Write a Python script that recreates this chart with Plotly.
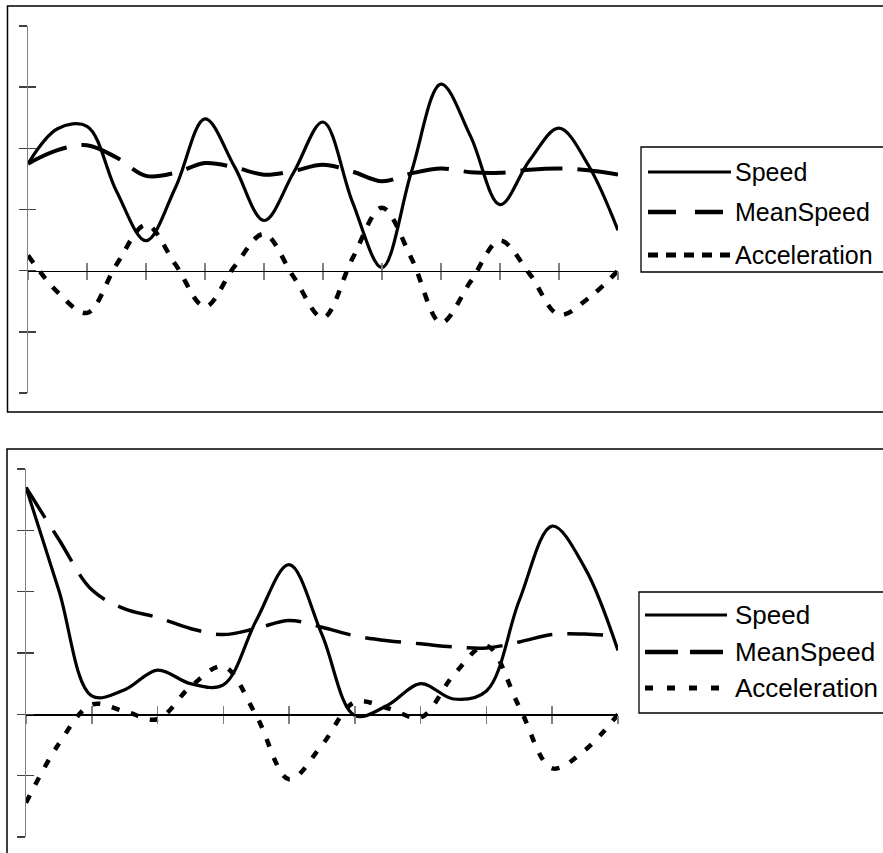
import plotly.graph_objects as go

# ---------------- data ----------------
top_x = [0, 0.5, 1, 1.5, 2, 2.5, 3, 3.5, 4, 4.5, 5, 5.5, 6, 6.5, 7, 7.5, 8, 8.5, 9, 9.5, 10]
top_speed = [1.75, 2.32, 2.36, 1.3, 0.49, 1.36, 2.48, 1.7, 0.82, 1.6, 2.43, 1.12, 0.05, 1.62,
             3.05, 2.2, 1.08, 1.8, 2.33, 1.72, 0.66]
top_mean = [1.75, 1.97, 2.05, 1.85, 1.55, 1.6, 1.76, 1.69, 1.57, 1.63, 1.73, 1.62, 1.46, 1.59,
            1.67, 1.61, 1.6, 1.65, 1.67, 1.64, 1.57]
top_acc = [0.25, -0.35, -0.69, 0.1, 0.75, 0.1, -0.59, 0.07, 0.6, -0.1, -0.77, 0.2, 1.03, 0.2,
           -0.85, -0.18, 0.49, -0.05, -0.72, -0.45, 0.0]

bot_x = [0, 0.5, 1, 1.5, 2, 2.5, 3, 3.5, 4, 4.5, 5, 5.5, 6, 6.5, 7, 7.5, 8, 8.5, 9]
bot_speed = [3.7, 2.02, 0.3, 0.4, 0.72, 0.5, 0.48, 1.53, 2.44, 1.3, -0.02, 0.15, 0.5, 0.25,
             0.38, 1.86, 3.07, 2.38, 1.04]
bot_mean = [3.7, 2.85, 2.03, 1.72, 1.58, 1.4, 1.3, 1.4, 1.53, 1.42, 1.28, 1.2, 1.15, 1.1,
            1.08, 1.18, 1.3, 1.31, 1.27]
bot_acc = [-1.44, -0.48, 0.16, 0.05, -0.08, 0.45, 0.78, -0.02, -1.06, -0.5, 0.2, 0.1, -0.05,
           0.64, 1.12, 0.12, -0.88, -0.58, 0.0]

series_names = ["Speed", "MeanSpeed", "Acceleration"]
y_range = [-2, 4]

# ---------------- layout helpers ----------------
W, H = 883, 853
def px(x):
    return x / W
def py(y):
    return 1 - y / H

top_dom_x = [px(28), px(618)]
top_dom_y = [py(393), py(26)]
bot_dom_x = [px(26), px(618)]
bot_dom_y = [py(837), py(469)]

def zero_pos(dom):
    return dom[0] + (0 - y_range[0]) / (y_range[1] - y_range[0]) * (dom[1] - dom[0])

fig = go.Figure()

styles = [
    dict(color="black", width=3.2, dash="solid"),
    dict(color="black", width=4, dash="42px,15px"),
    dict(color="black", width=4.5, dash="9px,11px"),
]

for ys, st, nm in zip([top_speed, top_mean, top_acc], styles, series_names):
    fig.add_trace(go.Scatter(x=top_x, y=ys, mode="lines", name=nm, showlegend=False,
                             line=dict(shape="spline", smoothing=1.0, **st),
                             xaxis="x", yaxis="y"))
bot_styles = [
    dict(color="black", width=3.2, dash="solid"),
    dict(color="black", width=3.5, dash="36px,15px"),
    dict(color="black", width=4.5, dash="8px,12px"),
]
for ys, st, nm in zip([bot_speed, bot_mean, bot_acc], bot_styles, series_names):
    fig.add_trace(go.Scatter(x=bot_x, y=ys, mode="lines", name=nm, showlegend=False,
                             line=dict(shape="spline", smoothing=1.0, **st),
                             xaxis="x2", yaxis="y2"))
# helper traces for overlay axes (crossing ticks)
fig.add_trace(go.Scatter(x=[None], y=[None], xaxis="x3", yaxis="y3", showlegend=False))
fig.add_trace(go.Scatter(x=[None], y=[None], xaxis="x4", yaxis="y4", showlegend=False))

gray = "#808080"
common_x = dict(showgrid=False, zeroline=False, showticklabels=False, dtick=1, tick0=0,
                ticklen=8, tickwidth=1.5, tickcolor=gray, fixedrange=True)
common_y = dict(showgrid=False, zeroline=False, showticklabels=False, dtick=1, tick0=0,
                range=y_range, ticklen=8, tickwidth=1.5, tickcolor="#404040", fixedrange=True)

fig.update_layout(
    width=W, height=H, margin=dict(l=0, r=0, t=0, b=0),
    paper_bgcolor="white", plot_bgcolor="rgba(0,0,0,0)", showlegend=False,
    hovermode=False,
    xaxis=dict(domain=top_dom_x, range=[0, 10], anchor="free", position=zero_pos(top_dom_y),
               showline=True, linecolor="black", linewidth=1.5, ticks="outside", **common_x),
    xaxis3=dict(domain=top_dom_x, range=[0, 10], anchor="free", position=zero_pos(top_dom_y),
                overlaying="x", showline=False, ticks="inside", **common_x),
    yaxis=dict(domain=top_dom_y, anchor="x", showline=True, linecolor=gray, linewidth=1.5,
               ticks="outside", **common_y),
    yaxis3=dict(domain=top_dom_y, anchor="x", overlaying="y", showline=False,
                ticks="inside", **common_y),
    xaxis2=dict(domain=bot_dom_x, range=[0, 9], anchor="free", position=zero_pos(bot_dom_y),
                showline=True, linecolor="black", linewidth=1.5, ticks="outside", **common_x),
    xaxis4=dict(domain=bot_dom_x, range=[0, 9], anchor="free", position=zero_pos(bot_dom_y),
                overlaying="x2", showline=False, ticks="inside", **common_x),
    yaxis2=dict(domain=bot_dom_y, anchor="x2", showline=True, linecolor=gray, linewidth=1.5,
                ticks="outside", **common_y),
    yaxis4=dict(domain=bot_dom_y, anchor="x2", overlaying="y2", showline=False,
                ticks="inside", **common_y),
)

shapes = []
annotations = []
# panel borders
shapes.append(dict(type="rect", xref="paper", yref="paper", x0=px(7.5), x1=px(895),
                   y0=py(412), y1=py(6), line=dict(color="black", width=1.5)))
shapes.append(dict(type="rect", xref="paper", yref="paper", x0=px(7), x1=px(895),
                   y0=py(870), y1=py(449), line=dict(color="black", width=1.5)))

def legend(box, rows, line_x, text_x, dashes, font_size):
    x0, y0, y1 = box
    shapes.append(dict(type="rect", xref="paper", yref="paper", x0=px(x0), x1=px(900),
                       y0=py(y1), y1=py(y0), line=dict(color="black", width=1.3)))
    widths = [3, 4.5, 5]
    for nm, ry, d, w in zip(series_names, rows, dashes, widths):
        shapes.append(dict(type="line", xref="paper", yref="paper", x0=px(line_x[0]),
                           x1=px(line_x[1]), y0=py(ry), y1=py(ry),
                           line=dict(color="black", width=w, dash=d)))
        annotations.append(dict(x=px(text_x), y=py(ry), xref="paper", yref="paper",
                                text=nm, showarrow=False, xanchor="left", yanchor="middle",
                                font=dict(family="Liberation Sans, Arial", size=font_size,
                                          color="black")))

legend((641, 147, 272), [172, 212, 255], (648, 731), 733,
       ["solid", "28px,19px", "10px,8px"], 25)
legend((639, 592, 713), [615, 652, 688], (645, 727), 733,
       ["solid", "33px,12px", "8px,14px"], 26)

fig.update_layout(shapes=shapes, annotations=annotations)
fig.write_html("out.html", config={"displayModeBar": False, "staticPlot": True},
               post_script="document.body.style.margin='0px';document.body.style.overflow='hidden';")
